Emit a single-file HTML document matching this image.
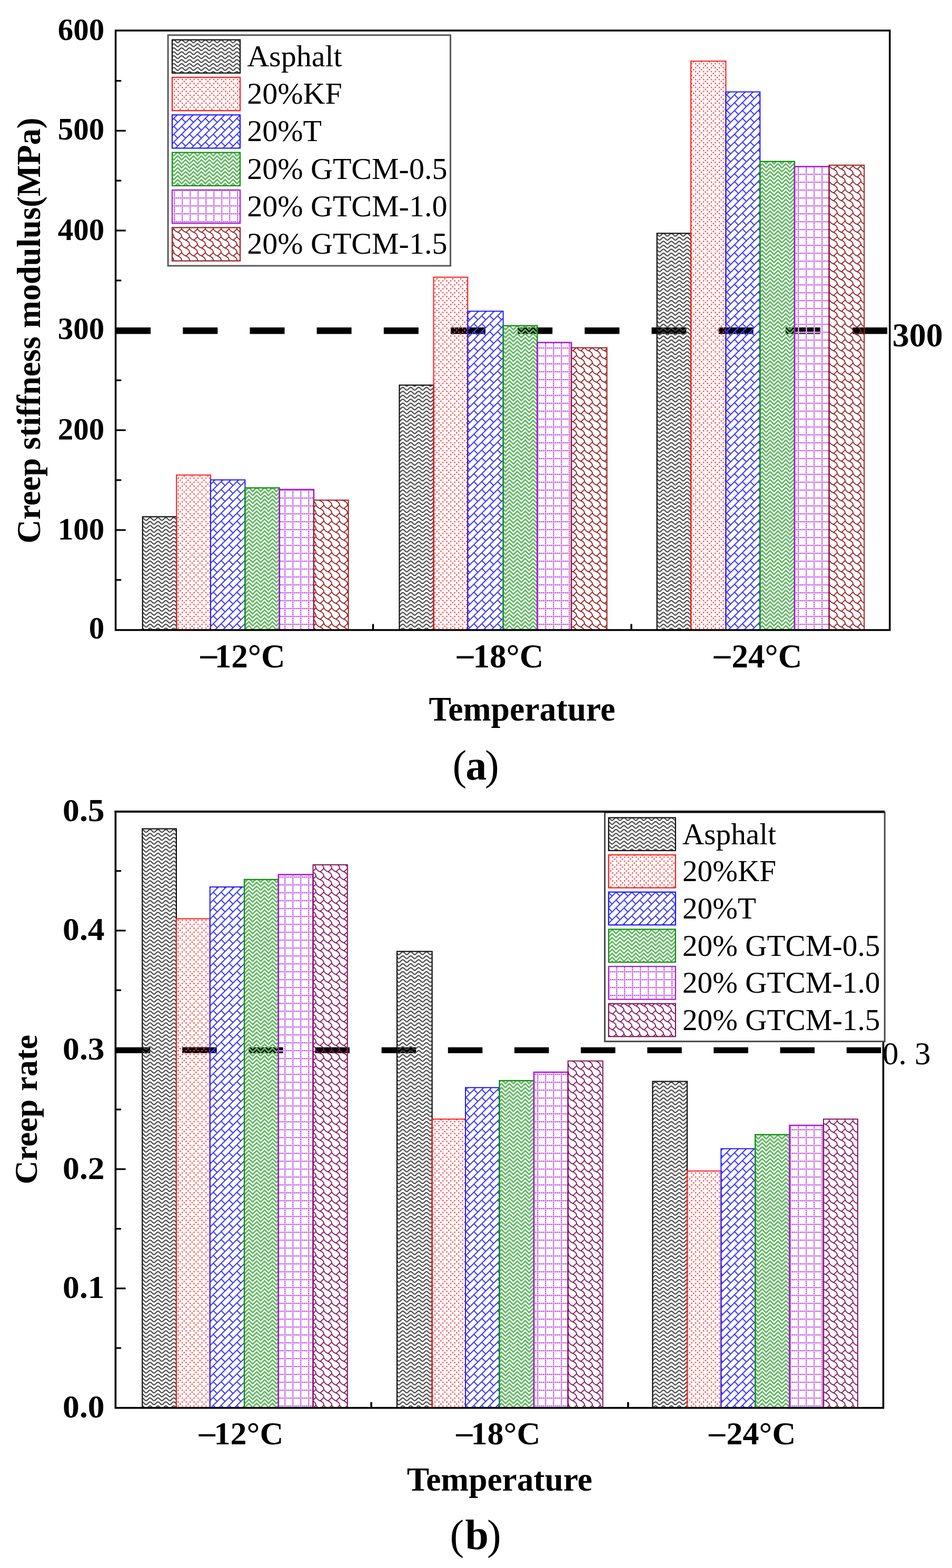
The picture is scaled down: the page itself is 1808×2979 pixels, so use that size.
<!DOCTYPE html>
<html><head><meta charset="utf-8"><title>Creep stiffness modulus and creep rate of asphalt binders</title>
<style>html,body{margin:0;padding:0;background:#fff;} svg{display:block;} text{font-family:'Liberation Serif', 'Times New Roman', Times, serif;fill:#000;}</style>
</head><body>
<svg width="1808" height="2979" viewBox="0 0 1808 2979">
<defs>
<pattern id="pAa" patternUnits="userSpaceOnUse" width="15" height="7.5"><path d="M-7.5,-1.2000000000000002 C-4.5,-1.2000000000000002 -3,-6.6 0,-6.6 C3,-6.6 4.5,-1.2000000000000002 7.5,-1.2000000000000002 C10.5,-1.2000000000000002 12,-6.6 15,-6.6 C18,-6.6 19.5,-1.2000000000000002 22.5,-1.2000000000000002 M-7.5,6.3 C-4.5,6.3 -3,0.9 0,0.9 C3,0.9 4.5,6.3 7.5,6.3 C10.5,6.3 12,0.9 15,0.9 C18,0.9 19.5,6.3 22.5,6.3 M-7.5,13.8 C-4.5,13.8 -3,8.4 0,8.4 C3,8.4 4.5,13.8 7.5,13.8 C10.5,13.8 12,8.4 15,8.4 C18,8.4 19.5,13.8 22.5,13.8 " fill="none" stroke="#464646" stroke-width="2.2"/></pattern>
<pattern id="pKa" patternUnits="userSpaceOnUse" width="15" height="15"><g fill="#ff4545"><rect x="-0.2" y="-0.2" width="2.5" height="2.5"/><rect x="7.3" y="-0.2" width="2.5" height="2.5"/><rect x="3.55" y="3.55" width="2.5" height="2.5"/><rect x="-0.2" y="7.3" width="2.5" height="2.5"/><rect x="7.3" y="7.3" width="2.5" height="2.5"/><rect x="11.05" y="11.05" width="2.5" height="2.5"/></g></pattern>
<pattern id="pTa" patternUnits="userSpaceOnUse" width="15" height="15"><path d="M-1,16 L16,-1 M-1,1 L16,-16 M-1,31 L16,14 M0,0 L7.5,7.5 M-7.5,7.5 L0,15 M15,0 L22.5,7.5" fill="none" stroke="#3a3aff" stroke-width="2.0"/></pattern>
<pattern id="pGa" patternUnits="userSpaceOnUse" width="15" height="15"><path d="M-7.5,-11.25 L0,-3.75 L7.5,-11.25 L15,-3.75 L22.5,-11.25 M-7.5,-3.75 L0,3.75 L7.5,-3.75 L15,3.75 L22.5,-3.75 M-7.5,3.75 L0,11.25 L7.5,3.75 L15,11.25 L22.5,3.75 M-7.5,11.25 L0,18.75 L7.5,11.25 L15,18.75 L22.5,11.25 M-7.5,18.75 L0,26.25 L7.5,18.75 L15,26.25 L22.5,18.75 " fill="none" stroke="#62b962" stroke-width="2.9"/></pattern>
<pattern id="pPa" patternUnits="userSpaceOnUse" width="15" height="15"><path d="M0,1.05 H15 M1.05,0 V15" stroke="#ebd0f4" stroke-width="3.4"/><g fill="#c24fe4"><rect x="-0.1" y="-0.1" width="2.3" height="2.3"/><rect x="3.65" y="-0.1" width="2.3" height="2.3"/><rect x="-0.1" y="3.65" width="2.3" height="2.3"/><rect x="7.4" y="-0.1" width="2.3" height="2.3"/><rect x="-0.1" y="7.4" width="2.3" height="2.3"/><rect x="11.15" y="-0.1" width="2.3" height="2.3"/><rect x="-0.1" y="11.15" width="2.3" height="2.3"/></g></pattern>
<pattern id="pSa" patternUnits="userSpaceOnUse" width="15" height="15"><path d="M-15,-15 L-11.5,-11.0 L-8.0,-9.1 L-5.6,-8.0 L-1.9000000000000004,-5.4 L-0.3000000000000007,-2.6999999999999993 L0,0 M0,-15 L-6.699999999999999,-8.6 M-15,0 L-11.5,4.0 L-8.0,5.9 L-5.6,7.0 L-1.9000000000000004,9.6 L-0.3000000000000007,12.3 L0,15 M0,0 L-6.699999999999999,6.4 M-15,15 L-11.5,19.0 L-8.0,20.9 L-5.6,22.0 L-1.9000000000000004,24.6 L-0.3000000000000007,27.3 L0,30 M0,15 L-6.699999999999999,21.4 M0,-15 L3.5,-11.0 L7.0,-9.1 L9.4,-8.0 L13.1,-5.4 L14.7,-2.6999999999999993 L15,0 M15,-15 L8.3,-8.6 M0,0 L3.5,4.0 L7.0,5.9 L9.4,7.0 L13.1,9.6 L14.7,12.3 L15,15 M15,0 L8.3,6.4 M0,15 L3.5,19.0 L7.0,20.9 L9.4,22.0 L13.1,24.6 L14.7,27.3 L15,30 M15,15 L8.3,21.4 M15,-15 L18.5,-11.0 L22.0,-9.1 L24.4,-8.0 L28.1,-5.4 L29.7,-2.6999999999999993 L30,0 M30,-15 L23.3,-8.6 M15,0 L18.5,4.0 L22.0,5.9 L24.4,7.0 L28.1,9.6 L29.7,12.3 L30,15 M30,0 L23.3,6.4 M15,15 L18.5,19.0 L22.0,20.9 L24.4,22.0 L28.1,24.6 L29.7,27.3 L30,30 M30,15 L23.3,21.4 " fill="none" stroke="#962020" stroke-width="1.85" stroke-linejoin="round"/></pattern>
<pattern id="pAb" patternUnits="userSpaceOnUse" width="15" height="7.5"><path d="M-7.5,-1.2000000000000002 C-4.5,-1.2000000000000002 -3,-6.6 0,-6.6 C3,-6.6 4.5,-1.2000000000000002 7.5,-1.2000000000000002 C10.5,-1.2000000000000002 12,-6.6 15,-6.6 C18,-6.6 19.5,-1.2000000000000002 22.5,-1.2000000000000002 M-7.5,6.3 C-4.5,6.3 -3,0.9 0,0.9 C3,0.9 4.5,6.3 7.5,6.3 C10.5,6.3 12,0.9 15,0.9 C18,0.9 19.5,6.3 22.5,6.3 M-7.5,13.8 C-4.5,13.8 -3,8.4 0,8.4 C3,8.4 4.5,13.8 7.5,13.8 C10.5,13.8 12,8.4 15,8.4 C18,8.4 19.5,13.8 22.5,13.8 " fill="none" stroke="#464646" stroke-width="2.2"/></pattern>
<pattern id="pKb" patternUnits="userSpaceOnUse" width="15" height="15"><g fill="#ff4545"><rect x="-0.2" y="-0.2" width="2.5" height="2.5"/><rect x="7.3" y="-0.2" width="2.5" height="2.5"/><rect x="3.55" y="3.55" width="2.5" height="2.5"/><rect x="-0.2" y="7.3" width="2.5" height="2.5"/><rect x="7.3" y="7.3" width="2.5" height="2.5"/><rect x="11.05" y="11.05" width="2.5" height="2.5"/></g></pattern>
<pattern id="pTb" patternUnits="userSpaceOnUse" width="15" height="15"><path d="M-1,16 L16,-1 M-1,1 L16,-16 M-1,31 L16,14 M0,0 L7.5,7.5 M-7.5,7.5 L0,15 M15,0 L22.5,7.5" fill="none" stroke="#3a3aff" stroke-width="2.0"/></pattern>
<pattern id="pGb" patternUnits="userSpaceOnUse" width="15" height="15"><path d="M-7.5,-11.25 L0,-3.75 L7.5,-11.25 L15,-3.75 L22.5,-11.25 M-7.5,-3.75 L0,3.75 L7.5,-3.75 L15,3.75 L22.5,-3.75 M-7.5,3.75 L0,11.25 L7.5,3.75 L15,11.25 L22.5,3.75 M-7.5,11.25 L0,18.75 L7.5,11.25 L15,18.75 L22.5,11.25 M-7.5,18.75 L0,26.25 L7.5,18.75 L15,26.25 L22.5,18.75 " fill="none" stroke="#62b962" stroke-width="2.9"/></pattern>
<pattern id="pPb" patternUnits="userSpaceOnUse" width="15" height="15"><path d="M0,1.05 H15 M1.05,0 V15" stroke="#ebd0f4" stroke-width="3.4"/><g fill="#c24fe4"><rect x="-0.1" y="-0.1" width="2.3" height="2.3"/><rect x="3.65" y="-0.1" width="2.3" height="2.3"/><rect x="-0.1" y="3.65" width="2.3" height="2.3"/><rect x="7.4" y="-0.1" width="2.3" height="2.3"/><rect x="-0.1" y="7.4" width="2.3" height="2.3"/><rect x="11.15" y="-0.1" width="2.3" height="2.3"/><rect x="-0.1" y="11.15" width="2.3" height="2.3"/></g></pattern>
<pattern id="pSb" patternUnits="userSpaceOnUse" width="15" height="15"><path d="M-15,-15 L-11.5,-11.0 L-8.0,-9.1 L-5.6,-8.0 L-1.9000000000000004,-5.4 L-0.3000000000000007,-2.6999999999999993 L0,0 M0,-15 L-6.699999999999999,-8.6 M-15,0 L-11.5,4.0 L-8.0,5.9 L-5.6,7.0 L-1.9000000000000004,9.6 L-0.3000000000000007,12.3 L0,15 M0,0 L-6.699999999999999,6.4 M-15,15 L-11.5,19.0 L-8.0,20.9 L-5.6,22.0 L-1.9000000000000004,24.6 L-0.3000000000000007,27.3 L0,30 M0,15 L-6.699999999999999,21.4 M0,-15 L3.5,-11.0 L7.0,-9.1 L9.4,-8.0 L13.1,-5.4 L14.7,-2.6999999999999993 L15,0 M15,-15 L8.3,-8.6 M0,0 L3.5,4.0 L7.0,5.9 L9.4,7.0 L13.1,9.6 L14.7,12.3 L15,15 M15,0 L8.3,6.4 M0,15 L3.5,19.0 L7.0,20.9 L9.4,22.0 L13.1,24.6 L14.7,27.3 L15,30 M15,15 L8.3,21.4 M15,-15 L18.5,-11.0 L22.0,-9.1 L24.4,-8.0 L28.1,-5.4 L29.7,-2.6999999999999993 L30,0 M30,-15 L23.3,-8.6 M15,0 L18.5,4.0 L22.0,5.9 L24.4,7.0 L28.1,9.6 L29.7,12.3 L30,15 M30,0 L23.3,6.4 M15,15 L18.5,19.0 L22.0,20.9 L24.4,22.0 L28.1,24.6 L29.7,27.3 L30,30 M30,15 L23.3,21.4 " fill="none" stroke="#85155e" stroke-width="1.85" stroke-linejoin="round"/></pattern>
</defs>
<rect width="1808" height="2979" fill="#fff"/>
<rect x="220.1" y="622.1" width="66" height="12.4" fill="#000"/>
<rect x="347.3" y="622.1" width="66" height="12.4" fill="#000"/>
<rect x="474.5" y="622.1" width="66" height="12.4" fill="#000"/>
<rect x="601.6" y="622.1" width="66" height="12.4" fill="#000"/>
<rect x="728.8" y="622.1" width="66" height="12.4" fill="#000"/>
<rect x="856.0" y="622.1" width="66" height="12.4" fill="#000"/>
<rect x="983.2" y="622.1" width="66" height="12.4" fill="#000"/>
<rect x="1110.4" y="622.1" width="66" height="12.4" fill="#000"/>
<rect x="1237.5" y="622.1" width="66" height="12.4" fill="#000"/>
<rect x="1364.7" y="622.1" width="66" height="12.4" fill="#000"/>
<rect x="1491.9" y="622.1" width="66" height="12.4" fill="#000"/>
<rect x="1619.1" y="622.1" width="66" height="12.4" fill="#000"/>
<rect x="270.8" y="981.7" width="64.4" height="215.3" fill="url(#pAa)" stroke="#111111" stroke-width="2.2"/>
<rect x="335.2" y="902.5" width="64.8" height="294.5" fill="url(#pKa)" stroke="#ff1a1a" stroke-width="2.0"/>
<rect x="400.0" y="911.7" width="65.4" height="285.3" fill="url(#pTa)" stroke="#1a1aff" stroke-width="2.0"/>
<rect x="465.4" y="926.9" width="65.4" height="270.1" fill="url(#pGa)" stroke="#109010" stroke-width="2.4"/>
<rect x="530.8" y="930.0" width="65.1" height="267.0" fill="url(#pPa)" stroke="#a818d8" stroke-width="2.6"/>
<rect x="595.9" y="950.2" width="65.7" height="246.8" fill="url(#pSa)" stroke="#962020" stroke-width="2.0"/>
<rect x="758.5" y="731.7" width="65.0" height="465.3" fill="url(#pAa)" stroke="#111111" stroke-width="2.2"/>
<rect x="823.5" y="526.7" width="64.7" height="670.3" fill="url(#pKa)" stroke="#ff1a1a" stroke-width="2.0"/>
<rect x="888.2" y="591.3" width="67.4" height="605.7" fill="url(#pTa)" stroke="#1a1aff" stroke-width="2.0"/>
<rect x="955.6" y="618.8" width="64.8" height="578.2" fill="url(#pGa)" stroke="#109010" stroke-width="2.4"/>
<rect x="1020.4" y="650.8" width="64.7" height="546.2" fill="url(#pPa)" stroke="#a818d8" stroke-width="2.6"/>
<rect x="1085.1" y="660.7" width="67.5" height="536.3" fill="url(#pSa)" stroke="#962020" stroke-width="2.0"/>
<rect x="1247.7" y="443.3" width="64.4" height="753.7" fill="url(#pAa)" stroke="#111111" stroke-width="2.2"/>
<rect x="1312.1" y="116.2" width="66.4" height="1080.8" fill="url(#pKa)" stroke="#ff1a1a" stroke-width="2.0"/>
<rect x="1378.5" y="174.6" width="64.9" height="1022.4" fill="url(#pTa)" stroke="#1a1aff" stroke-width="2.0"/>
<rect x="1443.4" y="306.8" width="65.6" height="890.2" fill="url(#pGa)" stroke="#109010" stroke-width="2.4"/>
<rect x="1509.0" y="316.5" width="65.6" height="880.5" fill="url(#pPa)" stroke="#a818d8" stroke-width="2.6"/>
<rect x="1574.6" y="313.8" width="66.6" height="883.2" fill="url(#pSa)" stroke="#962020" stroke-width="2.0"/>
<rect x="219.6" y="58.0" width="1470.2" height="1139.0" fill="none" stroke="#000" stroke-width="3.5"/>
<line x1="219.6" y1="1101.8" x2="230.29999999999998" y2="1101.8" stroke="#000" stroke-width="3.2"/>
<line x1="219.6" y1="1007.0" x2="238.79999999999998" y2="1007.0" stroke="#000" stroke-width="3.2"/>
<line x1="219.6" y1="912.1" x2="230.29999999999998" y2="912.1" stroke="#000" stroke-width="3.2"/>
<line x1="219.6" y1="817.3" x2="238.79999999999998" y2="817.3" stroke="#000" stroke-width="3.2"/>
<line x1="219.6" y1="722.5" x2="230.29999999999998" y2="722.5" stroke="#000" stroke-width="3.2"/>
<line x1="219.6" y1="627.7" x2="238.79999999999998" y2="627.7" stroke="#000" stroke-width="3.2"/>
<line x1="219.6" y1="532.9" x2="230.29999999999998" y2="532.9" stroke="#000" stroke-width="3.2"/>
<line x1="219.6" y1="438.0" x2="238.79999999999998" y2="438.0" stroke="#000" stroke-width="3.2"/>
<line x1="219.6" y1="343.2" x2="230.29999999999998" y2="343.2" stroke="#000" stroke-width="3.2"/>
<line x1="219.6" y1="248.4" x2="238.79999999999998" y2="248.4" stroke="#000" stroke-width="3.2"/>
<line x1="219.6" y1="153.6" x2="230.29999999999998" y2="153.6" stroke="#000" stroke-width="3.2"/>
<line x1="708.5" y1="1197.0" x2="708.5" y2="1185.5" stroke="#000" stroke-width="3.4"/>
<line x1="1199.0" y1="1197.0" x2="1199.0" y2="1185.5" stroke="#000" stroke-width="3.4"/>
<text x="198.2" y="1213.4" font-size="59" font-weight="bold" text-anchor="end" >0</text>
<text x="198.2" y="1025.2" font-size="59" font-weight="bold" text-anchor="end" >100</text>
<text x="198.2" y="834.8" font-size="59" font-weight="bold" text-anchor="end" >200</text>
<text x="198.2" y="643.6" font-size="59" font-weight="bold" text-anchor="end" >300</text>
<text x="198.2" y="455.6" font-size="59" font-weight="bold" text-anchor="end" >400</text>
<text x="198.2" y="265.2" font-size="59" font-weight="bold" text-anchor="end" >500</text>
<text x="198.2" y="76.0" font-size="59" font-weight="bold" text-anchor="end" >600</text>
<text x="1694.7" y="658.3" font-size="64" font-weight="bold" text-anchor="start" textLength="96" lengthAdjust="spacingAndGlyphs">300</text>
<rect x="319.1" y="66.7" width="536.4" height="438.3" fill="#fff" stroke="#585858" stroke-width="3"/>
<rect x="327.0" y="75.6" width="129.0" height="63.2" fill="url(#pAa)" stroke="#111111" stroke-width="2.2"/>
<text x="469.2" y="125.8" font-size="58" font-weight="normal" text-anchor="start" >Asphalt</text>
<rect x="327.0" y="147.0" width="129.0" height="63.2" fill="url(#pKa)" stroke="#ff1a1a" stroke-width="2.2"/>
<text x="469.2" y="197.1" font-size="58" font-weight="normal" text-anchor="start" >20%KF</text>
<rect x="327.0" y="218.3" width="129.0" height="63.2" fill="url(#pTa)" stroke="#1a1aff" stroke-width="2.2"/>
<text x="469.2" y="268.4" font-size="58" font-weight="normal" text-anchor="start" >20%T</text>
<rect x="327.0" y="289.7" width="129.0" height="63.2" fill="url(#pGa)" stroke="#109010" stroke-width="2.2"/>
<text x="469.2" y="339.7" font-size="58" font-weight="normal" text-anchor="start" >20% GTCM-0.5</text>
<rect x="327.0" y="361.0" width="129.0" height="63.2" fill="url(#pPa)" stroke="#a818d8" stroke-width="2.2"/>
<text x="469.2" y="411.0" font-size="58" font-weight="normal" text-anchor="start" >20% GTCM-1.0</text>
<rect x="327.0" y="432.4" width="129.0" height="63.2" fill="url(#pSa)" stroke="#962020" stroke-width="2.2"/>
<text x="469.2" y="482.3" font-size="58" font-weight="normal" text-anchor="start" >20% GTCM-1.5</text>
<text font-size="63" font-weight="bold"><tspan x="380.6" y="1264.2">–</tspan><tspan x="407.7" y="1267.6">12°C</tspan></text>
<text font-size="63" font-weight="bold"><tspan x="867.8" y="1264.2">–</tspan><tspan x="898.5" y="1267.6">18°C</tspan></text>
<text font-size="63" font-weight="bold"><tspan x="1355.8" y="1264.2">–</tspan><tspan x="1389.6" y="1267.6">24°C</tspan></text>
<text x="991.5" y="1369.0" font-size="65" font-weight="bold" text-anchor="middle" textLength="354" lengthAdjust="spacingAndGlyphs">Temperature</text>
<text font-size="80"><tspan x="859.4" y="1481">(</tspan><tspan x="884.2" y="1481" font-weight="bold">a</tspan><tspan x="921.1" y="1481">)</tspan></text>
<text transform="translate(75.8,1032.5) rotate(-90)" font-size="62.6" font-weight="bold">Creep stiffness modulus(MPa)</text>
<rect x="219.9" y="1989.7" width="65.5" height="11.2" fill="#000"/>
<rect x="346.1" y="1989.7" width="65.5" height="11.2" fill="#000"/>
<rect x="472.2" y="1989.7" width="65.5" height="11.2" fill="#000"/>
<rect x="598.4" y="1989.7" width="65.5" height="11.2" fill="#000"/>
<rect x="724.6" y="1989.7" width="65.5" height="11.2" fill="#000"/>
<rect x="850.8" y="1989.7" width="65.5" height="11.2" fill="#000"/>
<rect x="976.9" y="1989.7" width="65.5" height="11.2" fill="#000"/>
<rect x="1103.1" y="1989.7" width="65.5" height="11.2" fill="#000"/>
<rect x="1229.3" y="1989.7" width="65.5" height="11.2" fill="#000"/>
<rect x="1355.4" y="1989.7" width="65.5" height="11.2" fill="#000"/>
<rect x="1481.6" y="1989.7" width="65.5" height="11.2" fill="#000"/>
<rect x="1607.8" y="1989.7" width="65.5" height="11.2" fill="#000"/>
<rect x="270.3" y="1574.6" width="64.6" height="1100.2" fill="url(#pAb)" stroke="#111111" stroke-width="2.2"/>
<rect x="334.9" y="1745.5" width="63.9" height="929.3" fill="url(#pKb)" stroke="#ff1a1a" stroke-width="2.0"/>
<rect x="398.8" y="1685.1" width="65.2" height="989.7" fill="url(#pTb)" stroke="#1a1aff" stroke-width="2.0"/>
<rect x="464.0" y="1671.0" width="64.8" height="1003.8" fill="url(#pGb)" stroke="#109010" stroke-width="2.4"/>
<rect x="528.8" y="1661.7" width="65.7" height="1013.1" fill="url(#pPb)" stroke="#a818d8" stroke-width="2.6"/>
<rect x="594.5" y="1643.0" width="65.3" height="1031.8" fill="url(#pSb)" stroke="#85155e" stroke-width="2.0"/>
<rect x="754.0" y="1807.6" width="66.6" height="867.2" fill="url(#pAb)" stroke="#111111" stroke-width="2.2"/>
<rect x="820.6" y="2126.2" width="63.4" height="548.6" fill="url(#pKb)" stroke="#ff1a1a" stroke-width="2.0"/>
<rect x="884.0" y="2066.3" width="64.5" height="608.5" fill="url(#pTb)" stroke="#1a1aff" stroke-width="2.0"/>
<rect x="948.5" y="2053.1" width="65.5" height="621.7" fill="url(#pGb)" stroke="#109010" stroke-width="2.4"/>
<rect x="1014.0" y="2037.1" width="64.7" height="637.7" fill="url(#pPb)" stroke="#a818d8" stroke-width="2.6"/>
<rect x="1078.7" y="2015.7" width="66.1" height="659.1" fill="url(#pSb)" stroke="#85155e" stroke-width="2.0"/>
<rect x="1239.4" y="2054.6" width="65.6" height="620.2" fill="url(#pAb)" stroke="#111111" stroke-width="2.2"/>
<rect x="1305.0" y="2224.7" width="64.4" height="450.1" fill="url(#pKb)" stroke="#ff1a1a" stroke-width="2.0"/>
<rect x="1369.4" y="2182.4" width="64.9" height="492.4" fill="url(#pTb)" stroke="#1a1aff" stroke-width="2.0"/>
<rect x="1434.3" y="2155.7" width="65.3" height="519.1" fill="url(#pGb)" stroke="#109010" stroke-width="2.4"/>
<rect x="1499.6" y="2138.1" width="64.4" height="536.7" fill="url(#pPb)" stroke="#a818d8" stroke-width="2.6"/>
<rect x="1564.0" y="2126.2" width="64.9" height="548.6" fill="url(#pSb)" stroke="#85155e" stroke-width="2.0"/>
<rect x="219.4" y="1541.8" width="1458.1" height="1133.0000000000002" fill="none" stroke="#000" stroke-width="3.6"/>
<line x1="219.4" y1="2561.1" x2="230.1" y2="2561.1" stroke="#000" stroke-width="3.2"/>
<line x1="219.4" y1="2447.8" x2="238.6" y2="2447.8" stroke="#000" stroke-width="3.2"/>
<line x1="219.4" y1="2334.5" x2="230.1" y2="2334.5" stroke="#000" stroke-width="3.2"/>
<line x1="219.4" y1="2221.2" x2="238.6" y2="2221.2" stroke="#000" stroke-width="3.2"/>
<line x1="219.4" y1="2107.9" x2="230.1" y2="2107.9" stroke="#000" stroke-width="3.2"/>
<line x1="219.4" y1="1994.6" x2="238.6" y2="1994.6" stroke="#000" stroke-width="3.2"/>
<line x1="219.4" y1="1881.3" x2="230.1" y2="1881.3" stroke="#000" stroke-width="3.2"/>
<line x1="219.4" y1="1768.0" x2="238.6" y2="1768.0" stroke="#000" stroke-width="3.2"/>
<line x1="219.4" y1="1654.7" x2="230.1" y2="1654.7" stroke="#000" stroke-width="3.2"/>
<line x1="705.1" y1="2674.8" x2="705.1" y2="2663.8" stroke="#000" stroke-width="3.6"/>
<line x1="1192.8" y1="2674.8" x2="1192.8" y2="2663.8" stroke="#000" stroke-width="3.6"/>
<text x="198.6" y="2692.7" font-size="61" font-weight="bold" text-anchor="end" textLength="79.5" lengthAdjust="spacingAndGlyphs">0.0</text>
<text x="198.6" y="2466.1" font-size="61" font-weight="bold" text-anchor="end" textLength="79.5" lengthAdjust="spacingAndGlyphs">0.1</text>
<text x="198.6" y="2239.5" font-size="61" font-weight="bold" text-anchor="end" textLength="79.5" lengthAdjust="spacingAndGlyphs">0.2</text>
<text x="198.6" y="2012.9" font-size="61" font-weight="bold" text-anchor="end" textLength="79.5" lengthAdjust="spacingAndGlyphs">0.3</text>
<text x="198.6" y="1786.3" font-size="61" font-weight="bold" text-anchor="end" textLength="79.5" lengthAdjust="spacingAndGlyphs">0.4</text>
<text x="198.6" y="1559.7" font-size="61" font-weight="bold" text-anchor="end" textLength="79.5" lengthAdjust="spacingAndGlyphs">0.5</text>
<text x="1676.0" y="2021.5" font-size="61" font-weight="normal" text-anchor="start" >0. 3</text>
<rect x="1148.6" y="1543.4" width="531.6" height="435.2" fill="#fff" stroke="#4a4a4a" stroke-width="3"/>
<rect x="1155.9" y="1553.5" width="127.0" height="62.5" fill="url(#pAb)" stroke="#111111" stroke-width="2.2"/>
<text x="1295.9" y="1603.5" font-size="57.3" font-weight="normal" text-anchor="start" >Asphalt</text>
<rect x="1155.9" y="1624.2" width="127.0" height="62.5" fill="url(#pKb)" stroke="#ff1a1a" stroke-width="2.2"/>
<text x="1295.9" y="1674.2" font-size="57.3" font-weight="normal" text-anchor="start" >20%KF</text>
<rect x="1155.9" y="1694.8" width="127.0" height="62.5" fill="url(#pTb)" stroke="#1a1aff" stroke-width="2.2"/>
<text x="1295.9" y="1744.8" font-size="57.3" font-weight="normal" text-anchor="start" >20%T</text>
<rect x="1155.9" y="1765.5" width="127.0" height="62.5" fill="url(#pGb)" stroke="#109010" stroke-width="2.2"/>
<text x="1295.9" y="1815.5" font-size="57.3" font-weight="normal" text-anchor="start" >20% GTCM-0.5</text>
<rect x="1155.9" y="1836.1" width="127.0" height="62.5" fill="url(#pPb)" stroke="#a818d8" stroke-width="2.2"/>
<text x="1295.9" y="1886.1" font-size="57.3" font-weight="normal" text-anchor="start" >20% GTCM-1.0</text>
<rect x="1155.9" y="1906.8" width="127.0" height="62.5" fill="url(#pSb)" stroke="#85155e" stroke-width="2.2"/>
<text x="1295.9" y="1956.8" font-size="57.3" font-weight="normal" text-anchor="start" >20% GTCM-1.5</text>
<line x1="217.6" y1="1541.8" x2="1680.0" y2="1541.8" stroke="#000" stroke-width="3.8"/>
<text font-size="62" font-weight="bold"><tspan x="377.8" y="2740.7">–</tspan><tspan x="406.6" y="2744.2">12°C</tspan></text>
<text font-size="62" font-weight="bold"><tspan x="866.2" y="2740.7">–</tspan><tspan x="894.6" y="2744.2">18°C</tspan></text>
<text font-size="62" font-weight="bold"><tspan x="1346.2" y="2740.7">–</tspan><tspan x="1379.6" y="2744.2">24°C</tspan></text>
<text x="948.8" y="2832.3" font-size="63" font-weight="bold" text-anchor="middle" textLength="352" lengthAdjust="spacingAndGlyphs">Temperature</text>
<text font-size="80"><tspan x="854.4" y="2943">(</tspan><tspan x="883.6" y="2943" font-weight="bold">b</tspan><tspan x="925.0" y="2943">)</tspan></text>
<text transform="translate(70.0,2250.0) rotate(-90)" font-size="62.3" font-weight="bold">Creep rate</text>
</svg>
</body></html>
